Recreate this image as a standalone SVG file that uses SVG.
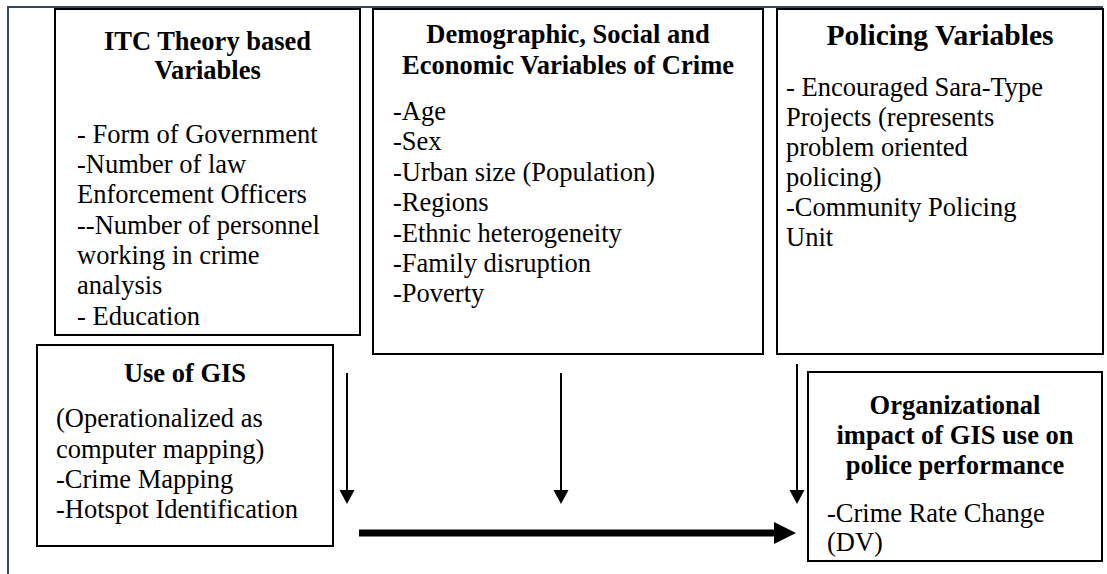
<svg xmlns="http://www.w3.org/2000/svg" width="1107" height="574" viewBox="0 0 1107 574">
  <style>
    .box { fill: #ffffff; stroke: #000000; stroke-width: 2; }
    .frame { fill: none; stroke: #34475f; stroke-width: 2; }
    .t { font-family: "Liberation Serif", "Times New Roman", serif; font-size: 26.5px; fill: #000000; }
    .h { font-weight: bold; text-anchor: middle; }
    .big { font-size: 29.5px; }
    .link { stroke: #000000; stroke-width: 2; fill: none; }
    .head { fill: #000000; }
  </style>
  <rect width="1107" height="574" fill="#ffffff"/>

  <!-- page frame (top and left rules) -->
  <path class="frame" d="M8 574 V7 H1103"/>

  <g id="itc-variables">
    <rect class="box" x="55" y="9" width="305" height="326"/>
    <text class="t h" x="207.5" y="50">ITC Theory based</text>
    <text class="t h" x="207.5" y="79">Variables</text>
    <text class="t" x="77" y="143">- Form of Government</text>
    <text class="t" x="77" y="173">-Number of law</text>
    <text class="t" x="77" y="203">Enforcement Officers</text>
    <text class="t" x="77" y="234">--Number of personnel</text>
    <text class="t" x="77" y="264">working in crime</text>
    <text class="t" x="77" y="294">analysis</text>
    <text class="t" x="77" y="325">- Education</text>
  </g>

  <g id="demographic-variables">
    <rect class="box" x="373" y="9" width="390" height="345"/>
    <text class="t h" x="568" y="43">Demographic, Social and</text>
    <text class="t h" x="568" y="74">Economic Variables of Crime</text>
    <text class="t" x="393" y="120">-Age</text>
    <text class="t" x="393" y="150">-Sex</text>
    <text class="t" x="393" y="181">-Urban size (Population)</text>
    <text class="t" x="393" y="211">-Regions</text>
    <text class="t" x="393" y="242">-Ethnic heterogeneity</text>
    <text class="t" x="393" y="272">-Family disruption</text>
    <text class="t" x="393" y="302">-Poverty</text>
  </g>

  <g id="policing-variables">
    <rect class="box" x="777" y="9" width="326" height="345"/>
    <text class="t h big" x="940" y="45">Policing Variables</text>
    <text class="t" x="786" y="96">- Encouraged Sara-Type</text>
    <text class="t" x="786" y="126">Projects (represents</text>
    <text class="t" x="786" y="156">problem oriented</text>
    <text class="t" x="786" y="186">policing)</text>
    <text class="t" x="786" y="216">-Community Policing</text>
    <text class="t" x="786" y="246">Unit</text>
  </g>

  <g id="use-of-gis">
    <rect class="box" x="37" y="345" width="296" height="201"/>
    <text class="t h" x="185" y="382">Use of GIS</text>
    <text class="t" x="56" y="427">(Operationalized as</text>
    <text class="t" x="56" y="458">computer mapping)</text>
    <text class="t" x="56" y="488">-Crime Mapping</text>
    <text class="t" x="56" y="518">-Hotspot Identification</text>
  </g>

  <g id="organizational-impact">
    <rect class="box" x="808" y="372" width="294" height="189"/>
    <text class="t h" x="955" y="414">Organizational</text>
    <text class="t h" x="955" y="444">impact of GIS use on</text>
    <text class="t h" x="955" y="474">police performance</text>
    <text class="t" x="827" y="522">-Crime Rate Change</text>
    <text class="t" x="827" y="551">(DV)</text>
  </g>

  <g id="connectors">
    <line class="link" x1="347" y1="373" x2="347" y2="492"/>
    <polygon class="head" points="339.5,490 354.5,490 347,504"/>
    <line class="link" x1="561" y1="373" x2="561" y2="492"/>
    <polygon class="head" points="553.5,490 568.5,490 561,504"/>
    <line class="link" x1="797" y1="364" x2="797" y2="492"/>
    <polygon class="head" points="789.5,490 804.5,490 797,504"/>
    <line x1="359" y1="533" x2="776" y2="533" stroke="#000000" stroke-width="7"/>
    <polygon class="head" points="774,522 796,533 774,544"/>
  </g>
</svg>
